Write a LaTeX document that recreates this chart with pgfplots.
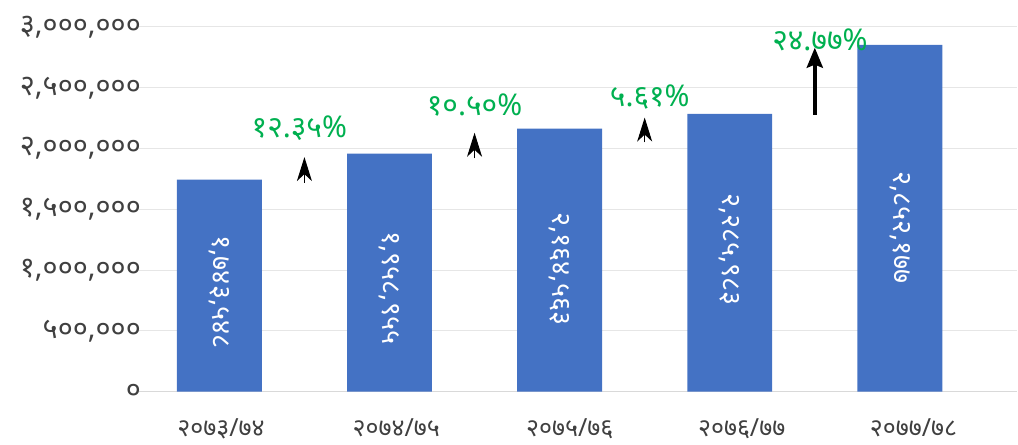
\documentclass[border=0pt]{standalone}
\usepackage{pgfplots}
\pgfplotsset{compat=1.18}
\usepackage{pgfplotstable}
\usepackage{fontspec}
\setmainfont{Noto Sans}[Script=Devanagari]
\usetikzlibrary{arrows.meta}
\definecolor{barblue}{HTML}{4472C4}
\definecolor{pctgreen}{HTML}{00B050}
\definecolor{gridgray}{HTML}{E6E6E6}
\definecolor{axgray}{HTML}{D9D9D9}
\definecolor{tickgray}{HTML}{404040}
\pgfplotstableread{
x y
0 1743548
1 1958955
2 2164563
3 2285983
4 2852177
}\datatable
\newcommand{\yfont}{\fontsize{29}{33}\selectfont}
\newcommand{\xfont}{\fontsize{25}{30}\selectfont}
\newcommand{\bfont}{\fontsize{27}{31}\selectfont}
\newcommand{\pfont}{\fontsize{30}{34}\selectfont}
\begin{document}
\begin{tikzpicture}
\begin{axis}[
  scale only axis, width=878.5pt, height=365pt,
  xmin=-0.47, xmax=4.69, ymin=0, ymax=3000000,
  ybar, bar width=85pt,
  axis lines*=left,
  y axis line style={draw=none},
  x axis line style={axgray, line width=1.5pt},
  ytick={0,500000,1000000,1500000,2000000,2500000,3000000},
  yticklabels={{०},{५००,०००},{१,०००,०००},{१,५००,०००},{२,०००,०००},{२,५००,०००},{३,०००,०००}},
  scaled y ticks=false,
  ymajorgrids, grid style={gridgray, line width=1pt},
  major tick length=0pt,
  xtick={0.01,1.04,2.06,3.07,4.08},
  xticklabels={{२०७३/७४},{२०७४/७५},{२०७५/७६},{२०७६/७७},{२०७७/७८}},
  yticklabel style={font=\yfont, text=tickgray, xshift=5pt},
  xticklabel style={font=\xfont, text=tickgray, yshift=-23pt},
  clip=false,
]
\addplot[fill=barblue, draw=none] table[x=x, y=y] {\datatable};

\node[rotate=-90, text=white, font=\bfont] at (axis cs:0,820000) {१,७४३,५४८};
\node[rotate=-90, text=white, font=\bfont] at (axis cs:1,855000) {१,९५८,९५५};
\node[rotate=-90, text=white, font=\bfont] at (axis cs:2,1010000) {२,१६४,५६३};
\node[rotate=-90, text=white, font=\bfont] at (axis cs:3,1170000) {२,२८५,९८३};
\node[rotate=-90, text=white, font=\bfont] at (axis cs:4,1350000) {२,८५२,१७७};

\node[text=pctgreen, font=\pfont] at (axis cs:0.47,2170000) {१२.३५\%};
\node[text=pctgreen, font=\pfont] at (axis cs:1.50,2360000) {१०.५०\%};
\node[text=pctgreen, font=\pfont] at (axis cs:2.53,2420000) {५.६१\%};
\node[text=pctgreen, font=\pfont] at (axis cs:3.53,2890000) {२४.७७\%};

\draw[black, line width=1pt, -{Stealth[length=24pt,width=15pt,inset=7pt]}] (axis cs:0.50,1720000) -- (axis cs:0.50,1930000);
\draw[black, line width=1pt, -{Stealth[length=24pt,width=15pt,inset=7pt]}] (axis cs:1.50,1920000) -- (axis cs:1.50,2130000);
\draw[black, line width=1pt, -{Stealth[length=24pt,width=15pt,inset=7pt]}] (axis cs:2.50,2050000) -- (axis cs:2.50,2255000);
\draw[black, line width=4pt, -{Stealth[length=20pt,width=16pt,inset=3pt]}] (axis cs:3.50,2280000) -- (axis cs:3.50,2830000);

\path (axis description cs:-0.1588,-0.1452) rectangle (axis description cs:1,1.074);
\end{axis}
\end{tikzpicture}
\end{document}
